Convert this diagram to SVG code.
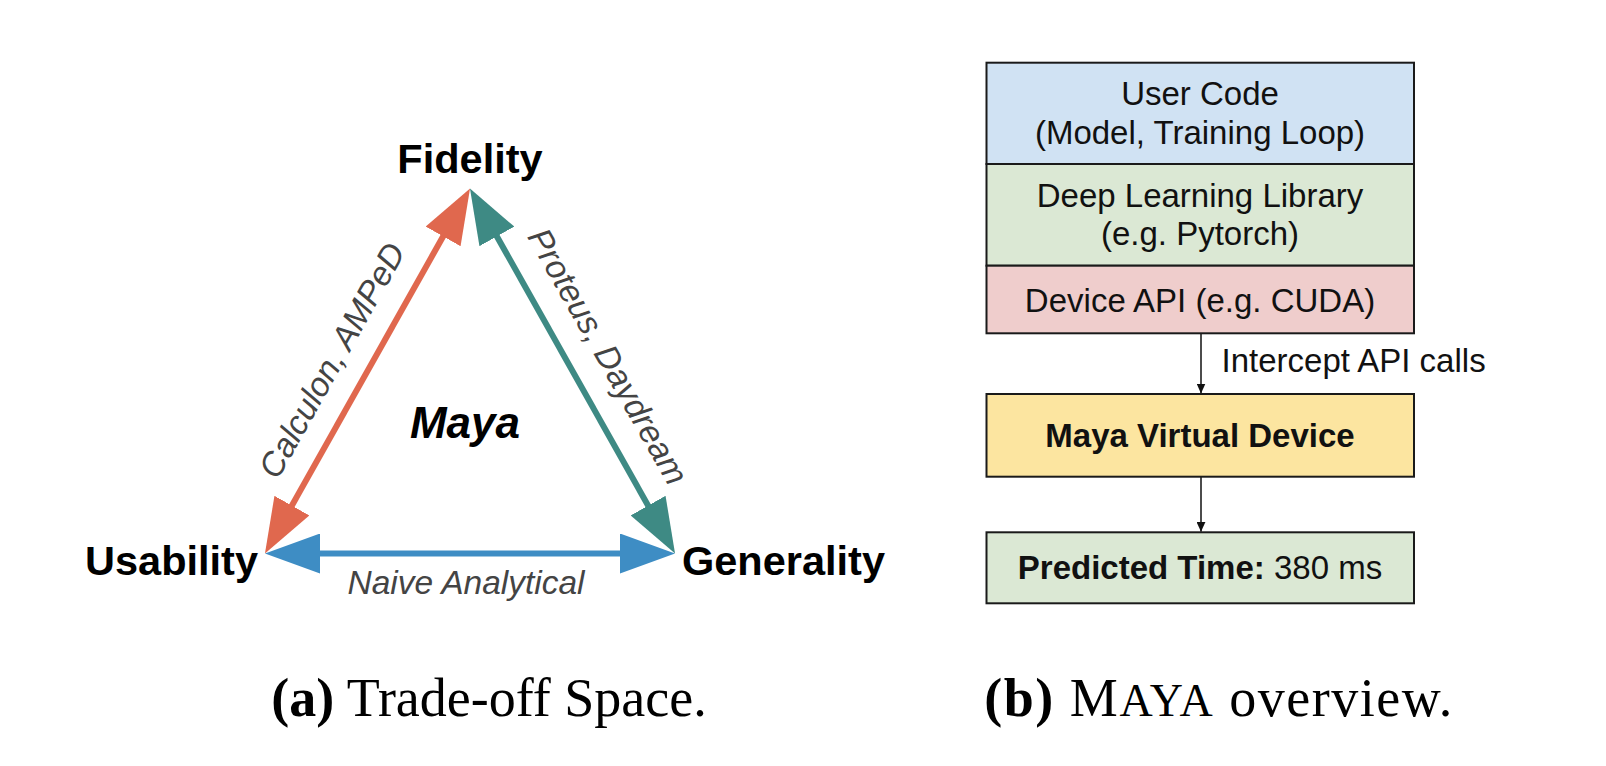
<svg xmlns="http://www.w3.org/2000/svg" width="1606" height="766" viewBox="0 0 1606 766">
<style>
.sans{font-family:"Liberation Sans",Arial,sans-serif}
.vert{font-family:"Liberation Sans",Arial,sans-serif;font-weight:bold;font-size:41.5px;fill:#000}
.lab{font-family:"Liberation Sans",Arial,sans-serif;font-style:italic;font-size:33.5px;fill:#444}
.box{stroke:#1a1a1a;stroke-width:2}
.bt{font-family:"Liberation Sans",Arial,sans-serif;font-size:33px;fill:#111;text-anchor:middle}
.cap{font-family:"Liberation Serif","Times New Roman",serif;font-size:54px;fill:#000}
</style>
<defs>
<marker id="hr" markerUnits="userSpaceOnUse" markerWidth="55" markerHeight="40" refX="10" refY="20" orient="auto-start-reverse"><path d="M0,0 L55,20 L0,40 Z" fill="#E0684E"/></marker>
<marker id="ht" markerUnits="userSpaceOnUse" markerWidth="55" markerHeight="40" refX="10" refY="20" orient="auto-start-reverse"><path d="M0,0 L55,20 L0,40 Z" fill="#3E8A84"/></marker>
<marker id="hb" markerUnits="userSpaceOnUse" markerWidth="55" markerHeight="40" refX="10" refY="20" orient="auto-start-reverse"><path d="M0,0 L55,20 L0,40 Z" fill="#3E8DC4"/></marker>
<marker id="hk" markerUnits="userSpaceOnUse" markerWidth="10" markerHeight="9" refX="10" refY="4.5" orient="auto"><path d="M0,0 L10,4.5 L0,9 Z" fill="#111"/></marker>
</defs>
<rect width="1606" height="766" fill="#fff"/>

<g id="connectors">
<line x1="287" y1="514.3" x2="448" y2="227.7" stroke="#E0684E" stroke-width="6" marker-start="url(#hr)" marker-end="url(#hr)"/>
<line x1="492" y1="227.7" x2="653" y2="514.3" stroke="#3E8A84" stroke-width="6" marker-start="url(#ht)" marker-end="url(#ht)"/>
<line x1="310" y1="553.5" x2="630" y2="553.5" stroke="#3E8DC4" stroke-width="6" marker-start="url(#hb)" marker-end="url(#hb)"/>
<text class="lab" text-anchor="middle" transform="translate(342,366) rotate(-60.7)">Calculon, AMPeD</text>
<text class="lab" text-anchor="middle" transform="translate(598,362) rotate(60.4)">Proteus, Daydream</text>
<text class="lab" x="466" y="594" text-anchor="middle">Naive Analytical</text>
<line x1="1201" y1="333.3" x2="1201" y2="393.5" stroke="#111" stroke-width="1.5" marker-end="url(#hk)"/>
<line x1="1201" y1="476.7" x2="1201" y2="531.8" stroke="#111" stroke-width="1.5" marker-end="url(#hk)"/>
<text class="sans" x="1221.5" y="371.5" font-size="33" fill="#111">Intercept API calls</text>
</g>

<g id="fidelity"><text class="vert" x="470" y="173" text-anchor="middle">Fidelity</text></g>
<g id="usability"><text class="vert" x="258" y="575" text-anchor="end">Usability</text></g>
<g id="generality"><text class="vert" x="682" y="575">Generality</text></g>
<g id="maya"><text class="sans" x="465" y="438" text-anchor="middle" font-size="44" font-weight="bold" font-style="italic">Maya</text></g>

<g id="user-code">
<rect class="box" x="986.5" y="62.7" width="427.5" height="101.3" fill="#D0E2F3"/>
<text class="bt" x="1200" y="105">User Code</text>
<text class="bt" x="1200" y="144">(Model, Training Loop)</text>
</g>
<g id="dl-library">
<rect class="box" x="986.5" y="164" width="427.5" height="101.7" fill="#DBE8D4"/>
<text class="bt" x="1200" y="206.5">Deep Learning Library</text>
<text class="bt" x="1200" y="245">(e.g. Pytorch)</text>
</g>
<g id="device-api">
<rect class="box" x="986.5" y="265.7" width="427.5" height="67.6" fill="#EFCDCC"/>
<text class="bt" x="1200" y="311.5">Device API (e.g. CUDA)</text>
</g>
<g id="maya-device">
<rect class="box" x="986.5" y="394" width="427.5" height="82.7" fill="#FCE5A0"/>
<text class="bt" x="1200" y="447" font-weight="bold">Maya Virtual Device</text>
</g>
<g id="predicted">
<rect class="box" x="986.5" y="532.3" width="427.5" height="71" fill="#DBE8D4"/>
<text class="bt" x="1200" y="579"><tspan font-weight="bold">Predicted Time:</tspan> 380 ms</text>
</g>

<g id="captions">
<text class="cap" x="489" y="716" text-anchor="middle"><tspan font-weight="bold">(a)</tspan> Trade-off Space.</text>
<text class="cap" x="1219" y="716" text-anchor="middle" letter-spacing="1.5"><tspan font-weight="bold">(b)</tspan> M<tspan font-size="46">AYA</tspan> overview.</text>
</g>
</svg>
